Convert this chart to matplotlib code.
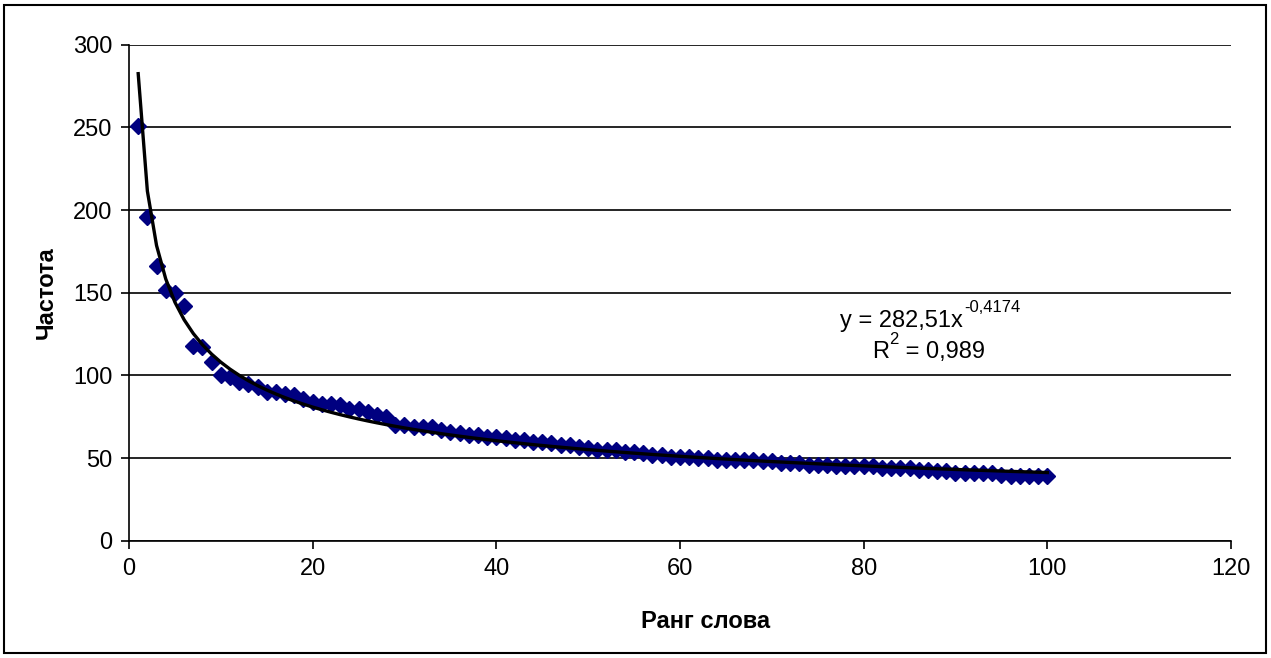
import numpy as np
import matplotlib
matplotlib.use("Agg")
import matplotlib.pyplot as plt
from matplotlib.patches import Rectangle

plt.rcParams['font.family'] = ['Liberation Sans', 'DejaVu Sans']

# rank of word and its frequency
rank = np.arange(1, 101)
freq = [251, 196, 166, 152, 150, 142, 118, 117, 108, 100,
        99, 96, 95, 93, 90, 90, 89, 88, 86, 84,
        83, 83, 82, 80, 80, 78, 76, 75, 70, 70,
        69, 69, 69, 67, 66, 65, 64, 64, 63, 63,
        62, 61, 61, 60, 60, 59, 58, 58, 57, 56,
        55, 55, 55, 54, 54, 53, 52, 52, 51, 51,
        51, 50, 50, 49, 49, 49, 49, 49, 48, 48,
        47, 47, 47, 46, 46, 46, 45, 45, 45, 45,
        45, 44, 44, 44, 44, 43, 43, 42, 42, 41,
        41, 41, 41, 41, 40, 39, 39, 39, 39, 39]

# power trend from the chart label
coef_a = 282.51
coef_b = -0.4174
r2_text = "0,989"

fig = plt.figure(figsize=(12.71, 6.58), dpi=100)
ax = fig.add_axes([0.1015, 0.178, 0.867, 0.754])

trend = coef_a * rank ** coef_b
ax.plot(rank, trend, color='black', lw=2.4, zorder=3)
ax.plot(rank, freq, ls='none', marker='D', ms=8, color='#000080',
        markeredgecolor='#000080', zorder=2)

ax.set_xlim(0, 120)
ax.set_ylim(0, 300)
ax.set_xticks(range(0, 121, 20))
ax.set_yticks(range(0, 301, 50))
ax.yaxis.grid(True, color='black', lw=1.2)
ax.set_axisbelow(True)
for s in ['top', 'right']:
    ax.spines[s].set_visible(False)
for s in ['left', 'bottom']:
    ax.spines[s].set_linewidth(1.2)
ax.tick_params(direction='out', length=6, width=1.2, labelsize=17, pad=6)
ax.set_xlabel('Ранг слова', fontsize=17, fontweight='bold', labelpad=22)
ax.xaxis.label.set_x(0.523)
ax.set_ylabel('Частота', fontsize=17, fontweight='bold', labelpad=11)

# trend equation
t1 = ax.text(77.4, 133, 'y = 282,51x', fontsize=17, ha='left', va='center')
ax.annotate('-0,4174', xy=(1, 0.75), xycoords=t1, xytext=(1, 0),
            textcoords='offset points', fontsize=12, ha='left', va='bottom')
t2 = ax.text(80.9, 114, 'R', fontsize=17, ha='left', va='center')
t3 = ax.annotate('2', xy=(1, 0.75), xycoords=t2, xytext=(0.5, 0),
                 textcoords='offset points', fontsize=12, ha='left', va='bottom')
ax.annotate(' = ' + r2_text, xy=(1, 0), xycoords=(t3, t2), xytext=(0, 0),
            textcoords='offset points', fontsize=17, ha='left', va='bottom')

fig.patches.append(Rectangle((0.0035, 0.0076), 0.9925, 0.985, transform=fig.transFigure,
                             fill=False, edgecolor='black', lw=1.5))

fig.savefig('out.png', dpi=100)
